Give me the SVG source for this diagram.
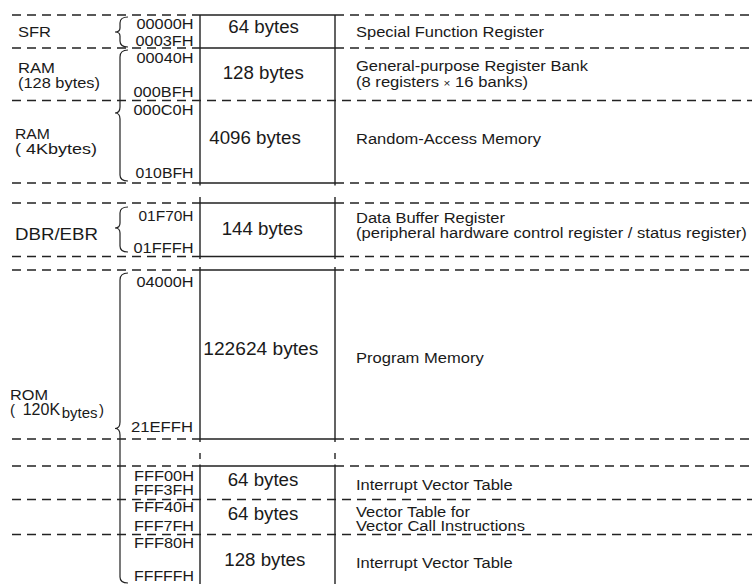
<svg xmlns="http://www.w3.org/2000/svg" width="755" height="584" viewBox="0 0 755 584">
<style>
text{font-family:"Liberation Sans",Arial,sans-serif;fill:#1a1a1a}
.lbl{font-size:15px}
.adr{font-size:15px;text-anchor:end}
.sz{font-size:18.7px}
.dsc{font-size:15.5px}
.dash{stroke:#222;stroke-width:1.3;stroke-dasharray:9 6;fill:none}
.solid{stroke:#222;stroke-width:1.4;fill:none}
.brace{stroke:#222;stroke-width:1.2;fill:none}
</style>
<rect width="755" height="584" fill="#fff"/>
<g id="connectors">
  <path class="dash" d="M12,15H200M335,15H752M12,48H200M335,48H752M12,100.5H752M12,183H200M335,183H752M12,203H200M335,203H752M12,256.5H200M335,256.5H752M12,270H200M335,270H752M12,439H200M335,439H752M12,466H200M335,466H752M12,499.5H752M12,534.5H752"/>
  <path class="solid" d="M200,15H335M200,48H335M200,183H335M200,203H335M200,256.5H335M200,270H335M200,439H335M200,466H335"/>
  <path class="solid" d="M200,15V185.5M335,15V185.5M200,197V259M335,197V259M200,267V442M335,267V442M200,453V459M335,453V459M200,464.5V584M335,464.5V584"/>
</g>
<g id="sfr">
  <path class="brace" d="M128,17Q120,17 120,23V28Q120,32 115,32Q120,32 120,36V41Q120,47 128,47"/>
  <text class="lbl" x="18" y="37" textLength="33" lengthAdjust="spacingAndGlyphs">SFR</text>
  <text class="adr" x="193.5" y="28.5" textLength="57" lengthAdjust="spacingAndGlyphs">00000H</text>
  <text class="adr" x="193.5" y="45.5" textLength="58" lengthAdjust="spacingAndGlyphs">0003FH</text>
  <text class="sz" x="228.3" y="32.5">64 bytes</text>
  <text class="dsc" x="356" y="36.7" textLength="188" lengthAdjust="spacingAndGlyphs">Special Function Register</text>
</g>
<g id="ram-bank">
  <path class="brace" d="M128,50Q120,50 120,57V107Q120,113 115,113Q120,113 120,119V175Q120,181 128,181"/>
  <text class="lbl" x="18" y="73" textLength="37" lengthAdjust="spacingAndGlyphs">RAM</text>
  <text class="lbl" x="18" y="87.5" textLength="82" lengthAdjust="spacingAndGlyphs">(128 bytes)</text>
  <text class="adr" x="193.5" y="63" textLength="57" lengthAdjust="spacingAndGlyphs">00040H</text>
  <text class="adr" x="193.5" y="97" textLength="60" lengthAdjust="spacingAndGlyphs">000BFH</text>
  <text class="sz" x="222.7" y="78.5">128 bytes</text>
  <text class="dsc" x="356" y="71" textLength="232" lengthAdjust="spacingAndGlyphs">General-purpose Register Bank</text>
  <text class="dsc" x="356" y="87.3" textLength="172" lengthAdjust="spacingAndGlyphs">(8 registers <tspan font-size="11">×</tspan> 16 banks)</text>
</g>
<g id="ram">
  <text class="lbl" x="15" y="138.5" textLength="35" lengthAdjust="spacingAndGlyphs">RAM</text>
  <text class="lbl" x="15" y="153.5" textLength="82" lengthAdjust="spacingAndGlyphs">( 4Kbytes)</text>
  <text class="adr" x="193.5" y="115" textLength="60" lengthAdjust="spacingAndGlyphs">000C0H</text>
  <text class="adr" x="193.5" y="177.5" textLength="58" lengthAdjust="spacingAndGlyphs">010BFH</text>
  <text class="sz" x="209.3" y="144">4096 bytes</text>
  <text class="dsc" x="356" y="144" textLength="185" lengthAdjust="spacingAndGlyphs">Random-Access Memory</text>
</g>
<g id="dbr">
  <path class="brace" d="M128,207Q120,207 120,213V223Q120,228 115,228Q120,228 120,233V246Q120,252 128,252"/>
  <text x="15" y="240" font-size="17" textLength="83" lengthAdjust="spacingAndGlyphs">DBR/EBR</text>
  <text class="adr" x="193.5" y="221" textLength="55" lengthAdjust="spacingAndGlyphs">01F70H</text>
  <text class="adr" x="193.5" y="253" textLength="60" lengthAdjust="spacingAndGlyphs">01FFFH</text>
  <text class="sz" x="221.7" y="235">144 bytes</text>
  <text class="dsc" x="356" y="223.3" textLength="149" lengthAdjust="spacingAndGlyphs">Data Buffer Register</text>
  <text class="dsc" x="356" y="238.3" textLength="390.7" lengthAdjust="spacingAndGlyphs">(peripheral hardware control register / status register)</text>
</g>
<g id="rom">
  <path class="brace" d="M128,273Q120,273 120,280V422Q120,428.5 115,428.5Q120,428.5 120,435V577Q120,583 128,583"/>
  <text class="lbl" x="10" y="400" textLength="38" lengthAdjust="spacingAndGlyphs">ROM</text>
  <text class="lbl" x="10" y="415">(<tspan x="22.7" font-size="16">120K</tspan><tspan x="61.7" dy="2.5">bytes</tspan><tspan x="99" dy="-2.5">)</tspan></text>
  <text class="adr" x="193.5" y="287" textLength="57" lengthAdjust="spacingAndGlyphs">04000H</text>
  <text class="adr" x="193" y="432" textLength="62" lengthAdjust="spacingAndGlyphs">21EFFH</text>
  <text class="sz" x="203.3" y="355" textLength="115" lengthAdjust="spacingAndGlyphs">122624 bytes</text>
  <text class="dsc" x="356" y="363.3" textLength="127.7" lengthAdjust="spacingAndGlyphs">Program Memory</text>
</g>
<g id="ivt1">
  <text class="adr" x="194" y="481.3" textLength="60" lengthAdjust="spacingAndGlyphs">FFF00H</text>
  <text class="adr" x="194" y="495.3" textLength="60" lengthAdjust="spacingAndGlyphs">FFF3FH</text>
  <text class="sz" x="227.7" y="485.7">64 bytes</text>
  <text class="dsc" x="356" y="490" textLength="156.7" lengthAdjust="spacingAndGlyphs">Interrupt Vector Table</text>
</g>
<g id="vct">
  <text class="adr" x="194" y="512" textLength="60" lengthAdjust="spacingAndGlyphs">FFF40H</text>
  <text class="adr" x="194" y="531.3" textLength="60" lengthAdjust="spacingAndGlyphs">FFF7FH</text>
  <text class="sz" x="227.7" y="520">64 bytes</text>
  <text class="dsc" x="356" y="517.3" textLength="114" lengthAdjust="spacingAndGlyphs">Vector Table for</text>
  <text class="dsc" x="356" y="530.7" textLength="169" lengthAdjust="spacingAndGlyphs">Vector Call Instructions</text>
</g>
<g id="ivt2">
  <text class="adr" x="194" y="548" textLength="60" lengthAdjust="spacingAndGlyphs">FFF80H</text>
  <text class="adr" x="194" y="581.3" textLength="60" lengthAdjust="spacingAndGlyphs">FFFFFH</text>
  <text class="sz" x="224.3" y="566">128 bytes</text>
  <text class="dsc" x="356" y="567.7" textLength="156.7" lengthAdjust="spacingAndGlyphs">Interrupt Vector Table</text>
</g>
</svg>
